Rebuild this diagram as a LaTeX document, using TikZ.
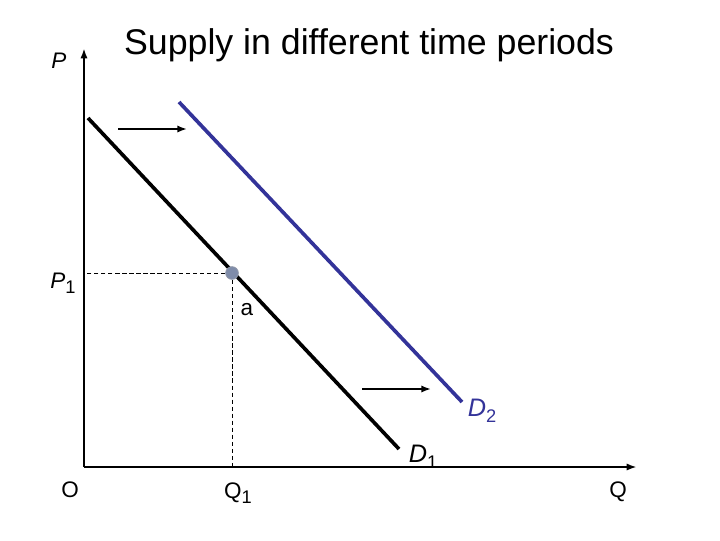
\documentclass[tikz,border=0pt]{standalone}
\usepackage{fontspec}
\setmainfont{Liberation Sans}
\usepackage{xcolor}
\usepackage{tikz}
\usetikzlibrary{calc,arrows.meta}
\definecolor{curveNavy}{HTML}{333399}
\definecolor{dotGrey}{HTML}{7F8CAA}
\definecolor{dotEdge}{HTML}{8F96A8}
\newcommand{\lowsub}[1]{\raisebox{-0.45ex}{\fontsize{13}{15}\selectfont\upshape #1}}
\tikzset{
  axisline/.style={-{Latex[length=2.6mm,width=1.8mm]}, line width=2pt, draw=black},
  demandline/.style={line width=2.6pt, draw=#1},
  shiftarrow/.style={-{Latex[length=2.4mm,width=1.8mm]}, line width=1.8pt, draw=black},
  guideline/.style={dashed, dash pattern=on 3pt off 2pt, line width=0.6pt, draw=black},
  eqdot/.style={circle, fill=dotGrey, draw=dotEdge, line width=0.6pt, minimum size=9pt, inner sep=0pt},
  axislabel/.style={font=\fontsize{16}{18}\selectfont, inner sep=1pt},
  curvelabel/.style={font=\fontsize{18}{20}\selectfont\itshape, inner sep=1pt, text=#1},
}
\begin{document}
\begin{tikzpicture}[x=0.025cm,y=-0.025cm]
  \useasboundingbox (0,0) rectangle (720,540);

  \node[font=\fontsize{25.4}{30}\selectfont] (title) at (369,45) {Supply in different time periods};

  % axes
  \coordinate (origin) at (84,467);
  \coordinate (ptop) at (84,48);
  \coordinate (qend) at (637,467);
  \draw[axisline] (origin) -- (ptop);
  \draw[axisline] (origin) -- (qend);

  % demand curves
  \coordinate (d1start) at (88,118);
  \coordinate (d1end) at (399,449);
  \coordinate (d2start) at (179,102);
  \coordinate (d2end) at (462,402);
  \draw[demandline=black] (d1start) -- (d1end);
  \draw[demandline=curveNavy] (d2start) -- (d2end);

  % point a with guide lines
  \coordinate (pta) at (232,273);
  \draw[guideline] (pta) -- (pta -| origin);
  \draw[guideline] (pta) -- (pta |- origin);
  \node[eqdot] (ptadot) at (pta) {};

  % shift arrows
  \coordinate (sh1from) at (118,129);
  \coordinate (sh1to) at (187,129);
  \coordinate (sh2from) at (362,389);
  \coordinate (sh2to) at (431,389);
  \draw[shiftarrow] (sh1from) -- (sh1to);
  \draw[shiftarrow] (sh2from) -- (sh2to);

  % labels
  \node[axislabel, font=\fontsize{16}{18}\selectfont\itshape] (plab) at (59,61) {P};
  \node[axislabel, font=\fontsize{16}{18}\selectfont\itshape] (p1lab) at (63,283) {P\lowsub{1}};
  \node[axislabel] (olab) at (70,490) {O};
  \node[axislabel] (q1lab) at (238,493) {Q\lowsub{1}};
  \node[axislabel] (qlab) at (618,492) {Q};
  \node[axislabel] (alab) at (247,310) {a};
  \node[curvelabel=curveNavy] (d2lab) at (482,411) {D\lowsub{2}};
  \node[curvelabel=black] (d1lab) at (423,457) {D\lowsub{1}};
\end{tikzpicture}
\end{document}
